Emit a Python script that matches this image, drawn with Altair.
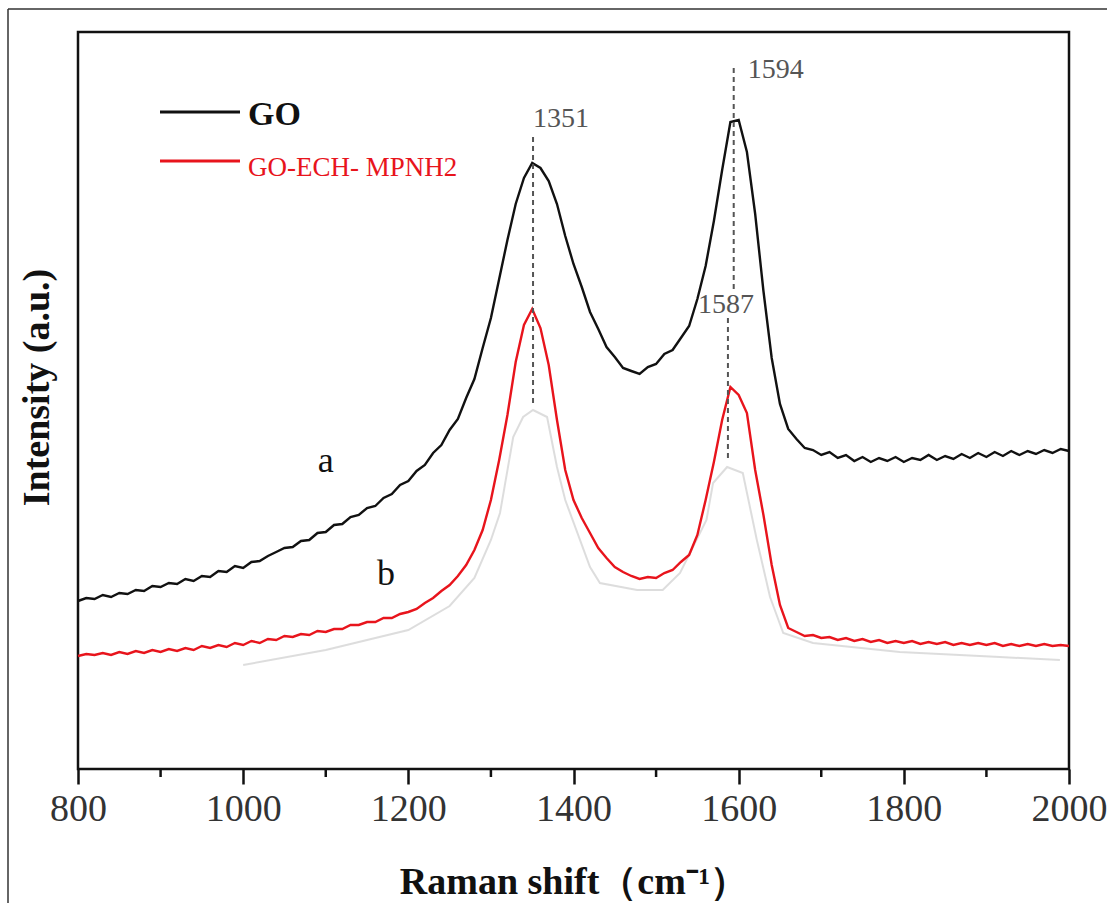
import altair as alt
import pandas as pd

# ---------------- data (intensity in arbitrary units) ----------------
raman_shift = list(range(800, 2001, 10))

go = [168, 171, 170, 174, 172, 176, 175, 179, 178, 183,
      182, 186, 185, 190, 188, 193, 192, 198, 197, 203,
      201, 207, 208, 213, 217, 221, 222, 228, 229, 236,
      237, 244, 245, 252, 254, 261, 263, 271, 275, 284,
      288, 298, 304, 316, 324, 339, 350, 371, 390, 421,
      451, 490, 529, 565, 591, 606, 601, 588, 565, 533,
      505, 482, 457, 440, 422, 412, 401, 398, 395, 402,
      405, 415, 419, 431, 443, 470, 503, 548, 599, 647,
      649, 617, 555, 478, 411, 365, 340, 330, 321, 319,
      314, 317, 311, 314, 308, 312, 307, 311, 308, 312,
      307, 311, 309, 314, 309, 313, 310, 315, 311, 316,
      312, 317, 313, 318, 314, 318, 315, 319, 316, 320,
      318]

go_ech_mpnh2 = [113, 115, 114, 116, 114, 117, 115, 118, 116, 119,
                117, 120, 118, 121, 119, 123, 121, 124, 122, 126,
                124, 128, 126, 130, 129, 133, 132, 135, 134, 138,
                137, 140, 140, 144, 144, 147, 147, 151, 151, 155,
                157, 160, 166, 171, 178, 184, 193, 204, 219, 239,
                269, 309, 354, 407, 444, 460, 441, 404, 349, 299,
                269, 251, 236, 221, 211, 202, 197, 193, 190, 192,
                191, 196, 199, 207, 214, 234, 269, 307, 349, 382,
                374, 356, 299, 254, 204, 164, 141, 137, 133, 134,
                131, 132, 129, 131, 128, 130, 127, 129, 126, 128,
                126, 128, 125, 127, 125, 127, 124, 126, 124, 126,
                124, 126, 123, 125, 123, 125, 123, 125, 123, 124,
                123]

# faint grey shadow edge visible under curve b in the figure
shadow_shift = [1000, 1100, 1200, 1250, 1280, 1300, 1311, 1327, 1339, 1351,
                1368, 1380, 1390, 1420, 1432, 1477, 1508, 1529, 1561, 1569,
                1586, 1605, 1622, 1638, 1654, 1690, 1795, 1916, 1989]
shadow_level = [104, 119, 139, 163, 191, 229, 256, 332, 352, 359,
                352, 302, 269, 202, 186, 179, 179, 196, 249, 286,
                302, 296, 229, 172, 136, 126, 117, 112, 109]

peak_pos = [1351, 1594, 1587]
peak_top = [632, 701, 451]
peak_bottom = [362, 479, 309]
peak_text = ["1351", "1594", "1587"]
peak_text_y = [642, 691, 456]

curve_labels = ["a", "b"]
curve_label_x = [1100, 1173]
curve_label_y = [297, 184]

major_ticks = [800, 1000, 1200, 1400, 1600, 1800, 2000]
minor_ticks = [900, 1100, 1300, 1500, 1700, 1900]

series_names = ["GO", "GO-ECH- MPNH2"]
series_colors = ["#111111", "#e8141c"]

# ---------------- tables ----------------
spectra = pd.DataFrame({
    "shift": raman_shift * 2,
    "intensity": go + go_ech_mpnh2,
    "series": [series_names[0]] * len(go) + [series_names[1]] * len(go_ech_mpnh2),
})
shadow = pd.DataFrame({"shift": shadow_shift, "intensity": shadow_level})
peaks = pd.DataFrame({"shift": peak_pos, "intensity": peak_top, "low": peak_bottom,
                      "label": peak_text, "ly": peak_text_y})
letters = pd.DataFrame({"shift": curve_label_x, "intensity": curve_label_y, "label": curve_labels})
minor = pd.DataFrame({"shift": minor_ticks})
one = pd.DataFrame({"k": [0]})

SERIF = "Liberation Serif"

xscale = alt.Scale(domain=[800, 2000], nice=False)
yscale = alt.Scale(domain=[0, 737], nice=False, zero=False)

x_enc = alt.X("shift:Q", scale=xscale, axis=alt.Axis(
    values=major_ticks, title="Raman shift（cm⁻¹）", format="d",
    grid=False, domain=False, ticks=True, tickSize=15, tickWidth=2.5, tickColor="#111",
    labelFont=SERIF, labelFontSize=38, labelColor="#333", labelPadding=6,
    labelFlush=False, labelOverlap=False, labelBound=False,
    titleFont=SERIF, titleFontSize=38, titleFontWeight="bold", titleColor="#111",
    titleY=124, titleBaseline="alphabetic"))
y_enc = alt.Y("intensity:Q", scale=yscale, axis=alt.Axis(
    title="Intensity (a.u.)", labels=False, ticks=False, domain=False, grid=False,
    titleFont=SERIF, titleFontSize=38, titleFontWeight="bold", titleColor="#111",
    titleAngle=270, titleX=-30, titleY=355, titleAlign="center", titleBaseline="alphabetic"))

shadow_layer = alt.Chart(shadow).mark_line(color="#d4d4d4", strokeWidth=2, opacity=0.8).encode(
    x=x_enc, y=y_enc)

lines = alt.Chart(spectra).mark_line(strokeWidth=2.4).encode(
    x=x_enc, y=y_enc,
    color=alt.Color("series:N", scale=alt.Scale(domain=series_names, range=series_colors), legend=None),
    detail="series:N")

dashes = alt.Chart(peaks).mark_rule(color="#555", strokeWidth=2, strokeDash=[5, 4]).encode(
    x=x_enc, y=y_enc, y2="low:Q")


def peak_label(label, align, dx):
    return alt.Chart(peaks).transform_filter(
        alt.FieldEqualPredicate(field="label", equal=label)
    ).mark_text(font=SERIF, fontSize=28, color="#555", align=align, baseline="alphabetic", dx=dx
    ).encode(x=x_enc, y=alt.Y("ly:Q", scale=yscale), text="label:N")


lbl_1351 = peak_label("1351", "left", 0)
lbl_1594 = peak_label("1594", "left", 14)
lbl_1587 = peak_label("1587", "center", -2)

letter_lbl = alt.Chart(letters).mark_text(
    font=SERIF, fontSize=36, color="#111", align="center", baseline="alphabetic"
).encode(x=x_enc, y=y_enc, text="label:N")

minor_ticks_layer = alt.Chart(minor).mark_rule(color="#111", strokeWidth=2.5).encode(
    x=x_enc, y=alt.value(737), y2=alt.value(745))

# legend drawn by hand (two entries styled differently)
leg_line_go = alt.Chart(one).mark_rule(color=series_colors[0], strokeWidth=3).encode(
    x=alt.value(82), x2=alt.value(162), y=alt.value(80))
leg_line_b = alt.Chart(one).mark_rule(color=series_colors[1], strokeWidth=3).encode(
    x=alt.value(82), x2=alt.value(162), y=alt.value(129))
leg_text_go = alt.Chart(one).mark_text(
    text=series_names[0], font=SERIF, fontSize=34, fontWeight="bold", color="#111",
    align="left", baseline="alphabetic").encode(x=alt.value(170), y=alt.value(93))
leg_text_b = alt.Chart(one).mark_text(
    text=series_names[1], font=SERIF, fontSize=27, color="#e8141c",
    align="left", baseline="alphabetic").encode(x=alt.value(170), y=alt.value(144))

# outer picture frame (top and left edges)
frame_top = alt.Chart(one).mark_rule(color="#333", strokeWidth=1.5).encode(
    x=alt.value(-70), x2=alt.value(1040), y=alt.value(-23))
frame_left = alt.Chart(one).mark_rule(color="#333", strokeWidth=1.5).encode(
    x=alt.value(-70), y=alt.value(-23), y2=alt.value(880))

chart = alt.layer(
    shadow_layer, lines, dashes, lbl_1351, lbl_1594, lbl_1587, letter_lbl, minor_ticks_layer,
    leg_line_go, leg_line_b, leg_text_go, leg_text_b, frame_top, frame_left
).properties(
    width=991, height=737,
    autosize=alt.AutoSizeParams(type="none"),
    padding={"left": 78, "top": 32, "right": 38, "bottom": 134},
    background="white",
).configure_view(stroke="#111", strokeWidth=2.5)

chart.save("out.html", embed_options={"renderer": "svg", "actions": False})
